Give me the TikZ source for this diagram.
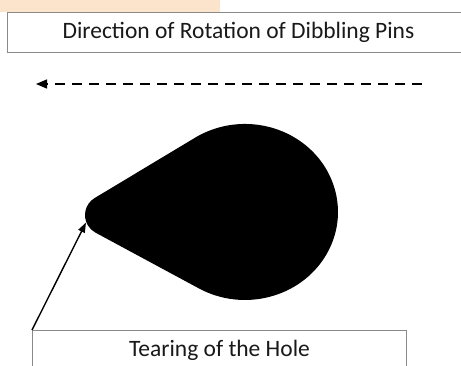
\documentclass[tikz,border=0pt]{standalone}
\usepackage{fontspec}
\setmainfont{Carlito}
\usetikzlibrary{arrows.meta}
\definecolor{peach}{HTML}{FCE4CC}
\definecolor{boxline}{HTML}{8A8A8A}
\tikzset{
  labelbox/.style={draw=boxline, line width=0.9pt, fill=white, minimum height=40pt, inner sep=0pt, font=\fontsize{23.5}{28}\selectfont, text=black!90},
  dirarrow/.style={line width=1.3pt, dash pattern=on 10pt off 7pt, -{Triangle[length=11pt,width=9pt]}},
  ptrarrow/.style={line width=1.4pt, -{Triangle[length=10pt,width=7pt]}}
}
\begin{document}
\begin{tikzpicture}[x=1pt,y=1pt]
\path[use as bounding box, clip] (0,0) rectangle (461,365);
\fill[peach] (0,353) rectangle (220,365);
\node[labelbox, minimum width=463pt] (dir) at (238.5,333) {Direction of Rotation of Dibbling Pins};
\coordinate (dstart) at (422,281);
\coordinate (dend) at (36,281);
\draw[dirarrow] (dstart) -- (dend);
% teardrop hole
\fill[black] (95.43,132.39) -- (198.9,76.6)
  arc[start angle=-119.7, end angle=122.4, x radius=93, y radius=88]
  -- (94.65,166.96) arc[start angle=121, end angle=241.6, radius=19.9] -- cycle;
\node[labelbox, minimum width=374pt, anchor=north west] (tear) at (32,35) {Tearing of the Hole};
\coordinate (tip) at (86,142.5);
\draw[ptrarrow] (tear.north west) -- (tip);
\end{tikzpicture}
\end{document}
